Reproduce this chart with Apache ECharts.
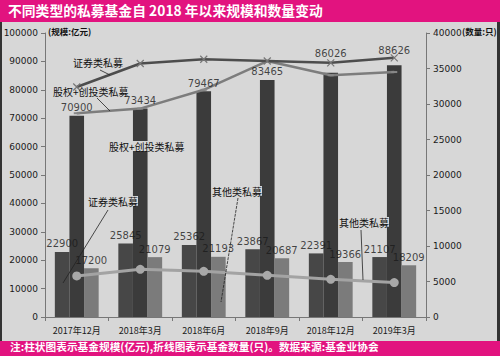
<!DOCTYPE html>
<html><head><meta charset="utf-8">
<script src="https://cdn.jsdelivr.net/npm/echarts@6/dist/echarts.min.js"></script>
<style>html,body{margin:0;padding:0;background:#fff}#c{width:500px;height:360px}</style>
</head><body><div id="c"></div>
<script>
var categories = ['2017年12月','2018年3月','2018年6月','2018年9月','2018年12月','2019年3月'];
var secScale = [22900, 25845, 25362, 23867, 22391, 21107];
var peScale = [70900, 73434, 79467, 83465, 86026, 88626];
var otherScale = [17200, 21079, 21193, 20687, 19366, 18209];
var secCount = [32400, 35700, 36300, 36050, 35800, 36500];
var peCount = [28700, 29350, 32000, 36050, 34050, 34500];
var otherCount = [5780, 6720, 6440, 5870, 5310, 4850];

var FONT = '"Noto Sans CJK SC", "Liberation Sans", sans-serif';
var MAG = '#e2137f';
var chart = echarts.init(document.getElementById('c'), null, {renderer: 'svg'});
var BW = 14.5;
// extra upward shift of a few value labels (placed above the count lines in the original)
var peLift = [0, 0, 0, 0, 11, 7];
function labelSeries(data, dx, lift) {
  return {type: 'scatter', data: data.map(function (v, i) {
      var l = lift ? lift[i] : 0;
      return {value: v, label: {offset: [dx, -l]}};
    }), symbolSize: 0, z: 30, silent: true,
    label: {show: true, position: 'top', distance: 3, offset: [dx, 0], color: '#1a1a1a', fontSize: 10, fontFamily: 'DejaVu Sans, sans-serif',
      formatter: function (p) { return String(p.value); }}};
}
var crossPath = 'path://M0,0L10,10M10,0L0,10';
var plain = function (v) { return String(v); };
chart.setOption({
  animation: false,
  backgroundColor: '#ffffff',
  textStyle: {fontFamily: FONT},
  grid: {left: 45, right: 74, top: 33, bottom: 43},
  graphic: [
    {type: 'rect', z: -10, shape: {x: 0, y: 0, width: 500, height: 22}, style: {fill: MAG}},
    {type: 'rect', z: -10, shape: {x: 0, y: 22, width: 500, height: 319}, style: {fill: '#d7d7d7'}},
    {type: 'rect', z: -9, shape: {x: 0, y: 22, width: 2, height: 319}, style: {fill: '#333'}},
    {type: 'rect', z: -9, shape: {x: 497, y: 22, width: 3, height: 319}, style: {fill: '#333'}},
    {type: 'rect', z: -10, shape: {x: 0, y: 341, width: 500, height: 15}, style: {fill: MAG}},
    {type: 'text', left: 8, top: 3, style: {text: '不同类型的私募基金自 2018 年以来规模和数量变动', fill: '#fff', font: 'bold 13.8px ' + FONT}},
    {type: 'text', left: 10, top: 341, style: {text: '注:柱状图表示基金规模(亿元),折线图表示基金数量(只)。数据来源:基金业协会', fill: '#fff', font: 'bold 10.7px ' + FONT}},
    {type: 'text', left: 48, top: 27, style: {text: '(规模:亿元)', fill: '#111', font: 'bold 8.5px ' + FONT}},
    {type: 'text', left: 462, top: 27, style: {text: '(数量:只)', fill: '#111', font: 'bold 8.5px ' + FONT}},
    // annotations
    {type: 'text', left: 73, top: 57, z: 50, style: {text: '证券类私募', fill: '#111', font: '10px ' + FONT}},
    {type: 'line', z: 50, shape: {x1: 100, y1: 70, x2: 110, y2: 75}, style: {stroke: '#222', lineWidth: 0.8}},
    {type: 'text', left: 53, top: 86, z: 50, style: {text: '股权+创投类私募', fill: '#111', font: '10px ' + FONT}},
    {type: 'line', z: 50, shape: {x1: 97, y1: 98, x2: 110, y2: 111}, style: {stroke: '#222', lineWidth: 0.8}},
    {type: 'text', left: 109, top: 141, z: 50, style: {text: '股权+创投类私募', fill: '#111', font: '10px ' + FONT, backgroundColor: '#d7d7d7'}},
    {type: 'text', left: 88, top: 196, z: 50, style: {text: '证券类私募', fill: '#111', font: '10px ' + FONT, backgroundColor: '#d7d7d7'}},
    {type: 'line', z: 50, shape: {x1: 108, y1: 210, x2: 63, y2: 283}, style: {stroke: '#222', lineWidth: 0.8}},
    {type: 'text', left: 212, top: 186, z: 50, style: {text: '其他类私募', fill: '#111', font: '10px ' + FONT, backgroundColor: '#d7d7d7'}},
    {type: 'line', z: 50, shape: {x1: 238, y1: 198, x2: 221, y2: 302}, style: {stroke: '#222', lineWidth: 0.8, lineDash: [3, 1]}},
    {type: 'text', left: 339, top: 217, z: 50, style: {text: '其他类私募', fill: '#111', font: '10px ' + FONT, backgroundColor: '#d7d7d7'}},
    {type: 'line', z: 50, shape: {x1: 361, y1: 230, x2: 363, y2: 280}, style: {stroke: '#222', lineWidth: 0.8}}
  ],
  xAxis: {
    type: 'category', data: categories,
    axisLine: {lineStyle: {color: '#777', width: 1}},
    axisTick: {show: true, length: 4, lineStyle: {color: '#777'}},
    axisLabel: {color: '#1a1a1a', fontSize: 9, margin: 9, interval: 0, fontFamily: FONT}
  },
  yAxis: [
    {type: 'value', min: 0, max: 100000, interval: 10000,
     axisLine: {show: true, lineStyle: {color: '#777'}},
     axisTick: {show: true, length: 4, lineStyle: {color: '#777'}},
     splitLine: {show: false},
     axisLabel: {color: '#1a1a1a', fontSize: 9, margin: 7, formatter: plain, fontFamily: 'DejaVu Sans, sans-serif'}},
    {type: 'value', min: 0, max: 40000, interval: 5000,
     axisLine: {show: true, lineStyle: {color: '#777'}},
     axisTick: {show: true, length: 4, lineStyle: {color: '#777'}},
     splitLine: {show: false},
     axisLabel: {color: '#1a1a1a', fontSize: 9, margin: 7, formatter: plain, fontFamily: 'DejaVu Sans, sans-serif'}}
  ],
  series: [
    {name: '证券类私募规模', type: 'bar', data: secScale, barGap: '0%', barCategoryGap: '31%',
     itemStyle: {color: '#474747'}},
    {name: '股权+创投类私募规模', type: 'bar', data: peScale,
     itemStyle: {color: '#3b3b3b'}},
    {name: '其他类私募规模', type: 'bar', data: otherScale,
     itemStyle: {color: '#7b7b7b'}},
    {name: '证券类私募数量', type: 'line', yAxisIndex: 1, data: secCount, z: 10,
     lineStyle: {color: '#4d4d4d', width: 2.5}, symbol: crossPath, symbolSize: 7,
     itemStyle: {color: '#777', borderColor: '#777', borderWidth: 1.2}},
    {name: '股权+创投类私募数量', type: 'line', yAxisIndex: 1, data: peCount, z: 9,
     lineStyle: {color: '#7d7d7d', width: 2.5}, symbol: 'rect', symbolSize: [6, 2],
     itemStyle: {color: '#888'}},
    {name: '其他类私募数量', type: 'line', yAxisIndex: 1, data: otherCount, z: 10,
     lineStyle: {color: '#a3a3a3', width: 3}, symbol: 'circle', symbolSize: 9,
     itemStyle: {color: '#a8a8a8'}},
    labelSeries(secScale, -BW),
    labelSeries(peScale, 0, peLift),
    labelSeries(otherScale, BW)
  ]
});
</script>
</body></html>
